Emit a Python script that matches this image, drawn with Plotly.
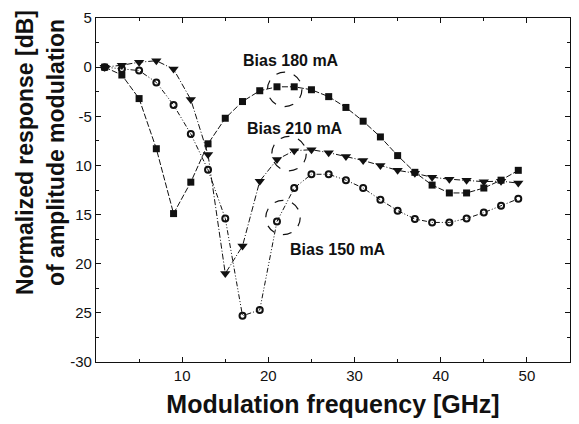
import plotly.graph_objects as go

freq = [1, 3, 5, 7, 9, 11, 13, 15, 17, 19, 21, 23, 25, 27, 29, 31, 33, 35, 37, 39, 41, 43, 45, 47, 49]
bias180 = [0, -0.8, -3.2, -8.3, -14.9, -11.7, -7.8, -5.2, -3.5, -2.4, -2.0, -2.0, -2.3, -3.0, -4.1, -5.5, -7.1, -9.0, -10.7, -12.0, -12.8, -12.8, -12.3, -11.5, -10.5]
bias210 = [0, 0.2, 0.5, 0.65, -0.2, -3.3, -8.9, -21.0, -18.2, -11.6, -9.4, -8.5, -8.4, -8.7, -9.1, -9.5, -10.0, -10.5, -10.8, -11.2, -11.4, -11.5, -11.65, -11.6, -11.8]
bias150 = [0, -0.2, -0.35, -1.55, -3.85, -6.8, -10.45, -15.4, -25.3, -24.7, -15.7, -12.3, -10.9, -10.9, -11.5, -12.3, -13.5, -14.6, -15.45, -15.8, -15.8, -15.4, -14.8, -14.1, -13.4]

y_tickvals = [5, 0, -5, -10, -15, -20, -25, -30]
y_ticktext = ["5", "0", "-5", "10", "15", "20", "25", "-30"]
x_tickvals = [10, 20, 30, 40, 50]

labels = [("Bias 180 mA", 22.6, 0.7), ("Bias 210 mA", 23.1, -6.2), ("Bias 150 mA", 28.1, -18.6)]
circles = [(21.9, -2.26), (22.4, -8.8), (21.7, -15.3)]
y_title_lines = ["Normalized response [dB]", "of amplitude modulation"]
x_title = "Modulation frequency [GHz]"

ink = "#111111"
title_font = "Liberation Sans, Arial"
fig = go.Figure()
fig.add_trace(go.Scatter(x=freq, y=bias180, mode="lines+markers", name="Bias 180 mA",
                         line=dict(color=ink, width=1, dash="6px,2px"),
                         marker=dict(symbol="square", size=7, color=ink)))
fig.add_trace(go.Scatter(x=freq, y=bias210, mode="lines+markers", name="Bias 210 mA",
                         line=dict(color=ink, width=1, dash="6px,2px,1px,2px"),
                         marker=dict(symbol="triangle-down", size=9, color=ink)))
fig.add_trace(go.Scatter(x=freq, y=bias150, mode="lines+markers", name="Bias 150 mA",
                         line=dict(color=ink, width=1, dash="5px,2px,1px,2px,1px,2px"),
                         marker=dict(symbol="circle-open", size=6, color=ink, line=dict(width=2, color=ink))))

for t, x, y in labels:
    fig.add_annotation(x=x, y=y, text=t, showarrow=False,
                       font=dict(family="Liberation Sans, Arial", size=16, color=ink, weight="bold"))

rx, ry = 2.0, 1.75
for cx, cy in circles:
    fig.add_shape(type="circle", xref="x", yref="y", x0=cx - rx, x1=cx + rx, y0=cy - ry, y1=cy + ry,
                  line=dict(color=ink, width=1.2, dash="dash"))

# y-axis title as two rotated lines (paper coords; plot area spans x 96..570, y 18..362 px)
W, H = 579, 424
for txt, xpx in zip(y_title_lines, [25, 56]):
    fig.add_annotation(xref="paper", yref="paper", x=(xpx - 96) / 474, y=(362 - 153) / 344,
                       text=f"<b>{txt}</b>", textangle=-90, showarrow=False,
                       xanchor="center", yanchor="middle",
                       font=dict(family=title_font, size=23, color=ink))

fig.update_layout(
    width=W, height=H,
    margin=dict(l=96, r=9, t=18, b=62),
    paper_bgcolor="white", plot_bgcolor="white",
    showlegend=False,
    font=dict(family="Liberation Sans, Arial", color=ink),
)
fig.update_xaxes(range=[0, 55], tickvals=x_tickvals, ticks="inside", ticklen=5, tickwidth=1,
                 tickcolor=ink, showline=True, linecolor=ink, linewidth=1.2, mirror="ticks",
                 showgrid=False, zeroline=False, tickfont=dict(size=15), automargin=False,
                 minor=dict(tickvals=[5, 15, 25, 35, 45], ticks="inside", ticklen=3, tickcolor=ink),
                 title=dict(text=f"<b>{x_title}</b>", font=dict(family=title_font, size=25), standoff=12))
fig.update_yaxes(range=[-30, 5], tickvals=y_tickvals, ticktext=y_ticktext, ticks="inside", ticklen=5,
                 tickwidth=1, tickcolor=ink, showline=True, linecolor=ink, linewidth=1.2, mirror="ticks",
                 showgrid=False, zeroline=False, tickfont=dict(size=15), automargin=False,
                 minor=dict(tickvals=[2.5, -2.5, -7.5, -12.5, -17.5, -22.5, -27.5], ticks="inside", ticklen=3, tickcolor=ink))

fig.write_html("out.html", config={"displayModeBar": False},
               post_script="document.body.style.margin='0';document.body.style.overflow='hidden';")
